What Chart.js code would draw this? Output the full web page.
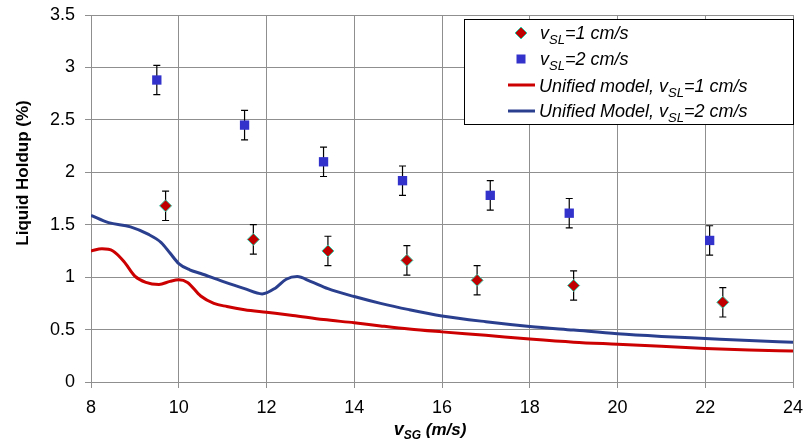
<!DOCTYPE html>
<html><head><meta charset="utf-8">
<script src="https://cdn.jsdelivr.net/npm/chart.js@4/dist/chart.umd.min.js"></script>
<style>html,body{margin:0;padding:0;background:#fff}</style>
</head><body>
<canvas id="c" width="806" height="445"></canvas>
<script>
// ---- data ----
const vsgExp1 = [9.7, 11.7, 13.4, 15.2, 16.8, 19.0, 22.4];
const holdupExp1 = [1.68, 1.36, 1.25, 1.16, 0.97, 0.92, 0.76];
const errExp1 = [0.14, 0.14, 0.14, 0.14, 0.14, 0.14, 0.14];

const vsgExp2 = [9.5, 11.5, 13.3, 15.1, 17.1, 18.9, 22.1];
const holdupExp2 = [2.88, 2.45, 2.10, 1.92, 1.78, 1.61, 1.35];
const errExp2 = [0.14, 0.14, 0.14, 0.14, 0.14, 0.14, 0.14];

const vsgModel1 = [8, 8.25, 8.5, 8.75, 9, 9.25, 9.55, 9.8, 10.0, 10.2, 10.5, 10.8, 11.1, 11.5, 12, 12.6, 13.3, 14, 14.6, 15.25, 16, 17, 18, 19, 20, 21, 22, 23, 24];
const holdupModel1 = [1.25, 1.27, 1.25, 1.15, 1.01, 0.95, 0.93, 0.96, 0.975, 0.95, 0.82, 0.75, 0.72, 0.69, 0.665, 0.635, 0.595, 0.565, 0.535, 0.505, 0.478, 0.445, 0.41, 0.38, 0.36, 0.34, 0.32, 0.305, 0.295];

const vsgModel2 = [8, 8.4, 8.9, 9.3, 9.6, 9.8, 10, 10.25, 10.5, 11, 11.5, 11.9, 12.2, 12.45, 12.7, 13.0, 13.4, 14, 14.6, 15.25, 16, 17, 18, 19, 20, 21, 22, 23, 24];
const holdupModel2 = [1.59, 1.52, 1.48, 1.41, 1.33, 1.23, 1.13, 1.07, 1.035, 0.96, 0.89, 0.84, 0.895, 0.98, 1.005, 0.96, 0.89, 0.815, 0.75, 0.69, 0.63, 0.575, 0.53, 0.495, 0.46, 0.435, 0.415, 0.395, 0.378];

const xTicks = [8, 10, 12, 14, 16, 18, 20, 22, 24];
const yTicks = [0, 0.5, 1, 1.5, 2, 2.5, 3, 3.5];
const yTickLabels = ['0', '0.5', '1', '1.5', '2', '2.5', '3', '3.5'];

// ---- styles ----
const RED = '#cc0000', BLUE = '#2b3f8f', SQ = '#3333cc', DIA = '#c00000', DIA_EDGE = '#33ccaa';
const GRID = '#8f8f8f';
const FONT = '"Liberation Sans", Arial, sans-serif';

const toXY = (xs, ys) => xs.map((x, i) => ({x: x, y: ys[i]}));

const errorBars = {
  id: 'errorBars',
  beforeDatasetsDraw(chart) {
    const ctx = chart.ctx, xs = chart.scales.x, ys = chart.scales.y;
    ctx.save();
    ctx.strokeStyle = '#000';
    ctx.lineWidth = 1.2;
    const draw = (vx, vy, ve) => {
      vx.forEach((x, i) => {
        const px = xs.getPixelForValue(x);
        const top = ys.getPixelForValue(vy[i] + ve[i]);
        const bot = ys.getPixelForValue(vy[i] - ve[i]);
        ctx.beginPath();
        ctx.moveTo(px, top); ctx.lineTo(px, bot);
        ctx.moveTo(px - 3.5, top); ctx.lineTo(px + 3.5, top);
        ctx.moveTo(px - 3.5, bot); ctx.lineTo(px + 3.5, bot);
        ctx.stroke();
      });
    };
    draw(vsgExp1, holdupExp1, errExp1);
    draw(vsgExp2, holdupExp2, errExp2);
    ctx.restore();
  }
};

function drawParts(ctx, x, y, parts, align) {
  let total = 0;
  parts.forEach(p => { ctx.font = p.font; p.w = ctx.measureText(p.t).width; total += p.w; });
  let cx = align === 'center' ? x - total / 2 : x;
  parts.forEach(p => {
    ctx.font = p.font;
    ctx.fillText(p.t, cx, y + (p.dy || 0));
    cx += p.w;
  });
}

const customText = {
  id: 'customText',
  afterDraw(chart) {
    const ctx = chart.ctx;
    ctx.save();
    ctx.fillStyle = '#000';
    ctx.textBaseline = 'alphabetic';
    ctx.textAlign = 'left';
    // x title
    drawParts(ctx, 430, 435, [
      {t: 'v', font: 'italic bold 18px ' + FONT},
      {t: 'SG', font: 'italic bold 12px ' + FONT, dy: 4},
      {t: ' (m/s)', font: 'italic bold 17px ' + FONT}
    ], 'center');
    // y title
    ctx.save();
    ctx.translate(28, 173);
    ctx.rotate(-Math.PI / 2);
    ctx.textAlign = 'center';
    ctx.font = 'bold 17px ' + FONT;
    ctx.fillText('Liquid Holdup (%)', 0, 0);
    ctx.restore();

    // legend box
    ctx.fillStyle = '#fff';
    ctx.fillRect(464.5, 19.5, 329, 105);
    ctx.strokeStyle = '#000';
    ctx.lineWidth = 1;
    ctx.strokeRect(464.5, 19.5, 329, 105);

    // diamond marker
    ctx.beginPath();
    ctx.moveTo(521, 27); ctx.lineTo(527, 33); ctx.lineTo(521, 39); ctx.lineTo(515, 33); ctx.closePath();
    ctx.fillStyle = DIA; ctx.fill();
    ctx.strokeStyle = DIA_EDGE; ctx.lineWidth = 1; ctx.stroke();
    // square marker
    ctx.fillStyle = SQ;
    ctx.fillRect(516.5, 54.5, 9, 9);
    // line samples
    ctx.lineWidth = 3;
    ctx.strokeStyle = RED;
    ctx.beginPath(); ctx.moveTo(508, 85); ctx.lineTo(535, 85); ctx.stroke();
    ctx.strokeStyle = BLUE;
    ctx.beginPath(); ctx.moveTo(508, 111); ctx.lineTo(535, 111); ctx.stroke();

    ctx.fillStyle = '#000';
    const LF = 'italic 18px ' + FONT, SF = 'italic 13px ' + FONT;
    drawParts(ctx, 540, 39, [{t: 'v', font: LF}, {t: 'SL', font: SF, dy: 5}, {t: '=1 cm/s', font: LF}]);
    drawParts(ctx, 540, 65, [{t: 'v', font: LF}, {t: 'SL', font: SF, dy: 5}, {t: '=2 cm/s', font: LF}]);
    drawParts(ctx, 539, 92, [{t: 'Unified model, v', font: LF}, {t: 'SL', font: SF, dy: 5}, {t: '=1 cm/s', font: LF}]);
    drawParts(ctx, 539, 117, [{t: 'Unified Model, v', font: LF}, {t: 'SL', font: SF, dy: 5}, {t: '=2 cm/s', font: LF}]);
    ctx.restore();
  }
};

new Chart(document.getElementById('c'), {
  type: 'scatter',
  data: {
    datasets: [
      {
        label: 'Unified model, vSL=1 cm/s',
        data: toXY(vsgModel1, holdupModel1),
        showLine: true, borderColor: RED, borderWidth: 3, pointRadius: 0,
        cubicInterpolationMode: 'monotone', order: 3
      },
      {
        label: 'Unified Model, vSL=2 cm/s',
        data: toXY(vsgModel2, holdupModel2),
        showLine: true, borderColor: BLUE, borderWidth: 3, pointRadius: 0,
        cubicInterpolationMode: 'monotone', order: 2
      },
      {
        label: 'vSL=1 cm/s',
        data: toXY(vsgExp1, holdupExp1),
        showLine: false, pointStyle: 'rectRot', pointRadius: 6,
        backgroundColor: DIA, borderColor: DIA_EDGE, borderWidth: 1, order: 1
      },
      {
        label: 'vSL=2 cm/s',
        data: toXY(vsgExp2, holdupExp2),
        showLine: false, pointStyle: 'rect', pointRadius: 6.6,
        backgroundColor: SQ, borderColor: SQ, borderWidth: 0, order: 0
      }
    ]
  },
  options: {
    responsive: false,
    animation: false,
    devicePixelRatio: 1,
    layout: {padding: {left: 0, right: 13, top: 15, bottom: 0}},
    plugins: {legend: {display: false}, tooltip: {enabled: false}},
    scales: {
      x: {
        type: 'linear', min: 8, max: 24,
        afterBuildTicks: s => { s.ticks = xTicks.map(v => ({value: v})); },
        afterFit: s => { s.height = 63; s.paddingLeft = 0; s.paddingRight = 0; },
        grid: {color: GRID, lineWidth: 1, tickLength: 6, drawTicks: true},
        border: {color: GRID, width: 1},
        ticks: {color: '#000', font: {family: FONT, size: 18}, padding: 9, maxRotation: 0,
                callback: v => String(v)}
      },
      y: {
        type: 'linear', min: 0, max: 3.5,
        afterBuildTicks: s => { s.ticks = yTicks.map(v => ({value: v})); },
        afterFit: s => { s.width = 91; s.paddingTop = 0; s.paddingBottom = 0; },
        grid: {color: GRID, lineWidth: 1, tickLength: 6, drawTicks: true},
        border: {color: GRID, width: 1},
        ticks: {color: '#000', font: {family: FONT, size: 18}, padding: 10,
                callback: (v) => yTickLabels[yTicks.indexOf(v)] ?? String(v)}
      }
    }
  },
  plugins: [errorBars, customText]
});
</script>
</body></html>
